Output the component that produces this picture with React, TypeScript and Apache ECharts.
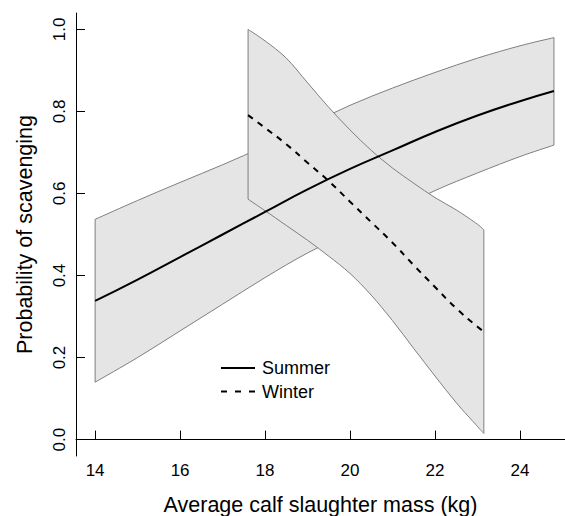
import React, { useEffect, useRef } from "react";
import * as echarts from "echarts";

// ---- data ----
const summerX = [14, 15, 16, 17, 18, 19, 20, 21, 22, 23, 24, 24.8];
const summerMean = [0.338, 0.39, 0.445, 0.5, 0.555, 0.61, 0.66, 0.705, 0.75, 0.79, 0.825, 0.85];
const summerUpper = [0.537, 0.583, 0.627, 0.67, 0.716, 0.766, 0.815, 0.857, 0.895, 0.93, 0.96, 0.98];
const summerLower = [0.14, 0.2, 0.265, 0.33, 0.395, 0.455, 0.505, 0.555, 0.607, 0.65, 0.69, 0.718];

const winterX = [17.6, 18, 18.5, 19, 19.5, 20, 20.5, 21, 21.5, 22, 22.5, 23, 23.15];
const winterMean = [0.791, 0.76, 0.72, 0.675, 0.63, 0.58, 0.53, 0.48, 0.425, 0.372, 0.32, 0.275, 0.263];
const winterUpper = [1.0, 0.972, 0.93, 0.87, 0.81, 0.755, 0.705, 0.662, 0.625, 0.59, 0.56, 0.525, 0.511];
const winterLower = [0.586, 0.558, 0.522, 0.486, 0.447, 0.405, 0.352, 0.29, 0.222, 0.155, 0.09, 0.032, 0.015];

const xTicks = [14, 16, 18, 20, 22, 24];
const yTicks = [0, 0.2, 0.4, 0.6, 0.8, 1.0];

const FONT = "'Liberation Sans', Arial, Helvetica, sans-serif";

type P = number[];

// Catmull-Rom spline through points, emitted as cubic bezier path commands (no initial move)
function splineCmds(pts: P[]): string {
  let d = "";
  const n = pts.length;
  for (let i = 0; i < n - 1; i++) {
    const p0 = pts[Math.max(0, i - 1)];
    const p1 = pts[i];
    const p2 = pts[i + 1];
    const p3 = pts[Math.min(n - 1, i + 2)];
    const c1x = p1[0] + (p2[0] - p0[0]) / 6;
    const c1y = p1[1] + (p2[1] - p0[1]) / 6;
    const c2x = p2[0] - (p3[0] - p1[0]) / 6;
    const c2y = p2[1] - (p3[1] - p1[1]) / 6;
    d += ` C ${c1x} ${c1y} ${c2x} ${c2y} ${p2[0]} ${p2[1]}`;
  }
  return d;
}

function bandSeries(xs: number[], upper: number[], lower: number[], name: string) {
  return {
    type: "custom",
    name,
    z: 1,
    data: [[xs[0], upper[0]]],
    renderItem: (_params: any, api: any) => {
      const top: P[] = xs.map((x, i) => api.coord([x, upper[i]]));
      const bot: P[] = xs.map((x, i) => api.coord([x, lower[i]])).reverse();
      const d =
        `M ${top[0][0]} ${top[0][1]}` +
        splineCmds(top) +
        ` L ${bot[0][0]} ${bot[0][1]}` +
        splineCmds(bot) +
        " Z";
      return {
        type: "path",
        shape: { pathData: d },
        style: { fill: "#e5e5e5", stroke: "#7f7f7f", lineWidth: 1 },
      };
    },
    silent: true,
  };
}

export default function App() {
  const ref = useRef<HTMLDivElement>(null);
  useEffect(() => {
    if (!ref.current) return;
    const chart = echarts.init(ref.current, undefined, { renderer: "svg" });
    chart.setOption({
      animation: false,
      backgroundColor: "#ffffff",
      grid: { left: 76, right: 0, top: 13, bottom: 60, containLabel: false, outerBoundsMode: "none" },
      xAxis: {
        type: "value",
        min: 13.55,
        max: 25.06,
        name: "Average calf slaughter mass (kg)",
        nameLocation: "middle",
        nameGap: 38,
        nameTextStyle: { fontFamily: FONT, fontSize: 21.5, color: "#000" },
        axisLine: { show: true, lineStyle: { color: "#000", width: 1 } },
        axisTick: { show: true, inside: true, length: 9, customValues: xTicks, lineStyle: { color: "#000" } },
        axisLabel: { customValues: xTicks, fontFamily: FONT, fontSize: 17, color: "#000", margin: 6 },
        splitLine: { show: false },
      },
      yAxis: {
        type: "value",
        min: -0.04,
        max: 1.04,
        name: "Probability of scavenging",
        nameLocation: "middle",
        nameGap: 40,
        nameTextStyle: { fontFamily: FONT, fontSize: 21.5, color: "#000" },
        axisLine: { show: true, lineStyle: { color: "#000", width: 1 } },
        axisTick: { show: true, inside: true, length: 9, customValues: yTicks, lineStyle: { color: "#000" } },
        axisLabel: {
          customValues: yTicks,
          rotate: 90,
          fontFamily: FONT,
          fontSize: 17,
          color: "#000",
          margin: 8,
          formatter: (v: number) => v.toFixed(1),
        },
        splitLine: { show: false },
      },
      series: [
        bandSeries(summerX, summerUpper, summerLower, "SummerBand"),
        bandSeries(winterX, winterUpper, winterLower, "WinterBand"),
        {
          type: "line",
          name: "Summer",
          z: 3,
          data: summerX.map((x, i) => [x, summerMean[i]]),
          showSymbol: false,
          smooth: true,
          lineStyle: { color: "#000", width: 2 },
          silent: true,
        },
        {
          type: "line",
          name: "Winter",
          z: 3,
          data: winterX.map((x, i) => [x, winterMean[i]]),
          showSymbol: false,
          smooth: true,
          lineStyle: { color: "#000", width: 2, type: [6, 6] },
          silent: true,
        },
      ],
      graphic: [
        { type: "line", shape: { x1: 221, y1: 368, x2: 255, y2: 368 }, style: { stroke: "#000", lineWidth: 2 } },
        {
          type: "text",
          x: 262,
          y: 368,
          style: { text: "Summer", fontFamily: FONT, fontSize: 18, fill: "#000", verticalAlign: "middle", align: "left" },
        },
        {
          type: "line",
          shape: { x1: 221, y1: 391.5, x2: 255, y2: 391.5 },
          style: { stroke: "#000", lineWidth: 2, lineDash: [6, 8] },
        },
        {
          type: "text",
          x: 262,
          y: 391.5,
          style: { text: "Winter", fontFamily: FONT, fontSize: 18, fill: "#000", verticalAlign: "middle", align: "left" },
        },
      ],
    });
    return () => chart.dispose();
  }, []);
  return <div ref={ref} style={{ position: "fixed", left: 0, top: 0, width: 565, height: 516 }} />;
}
